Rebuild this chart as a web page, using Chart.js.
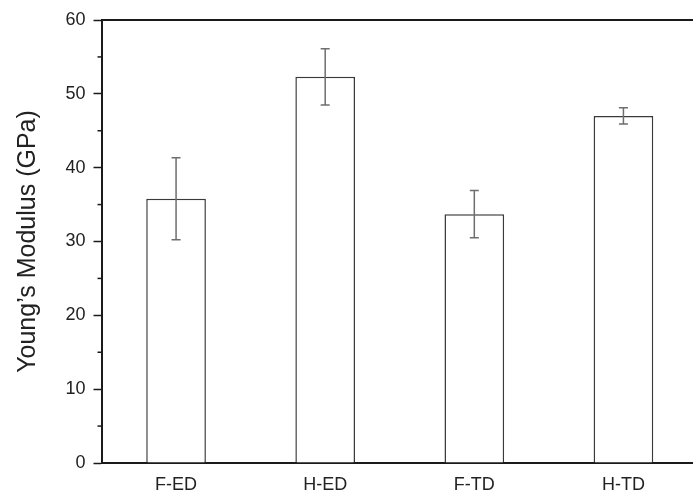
<!DOCTYPE html>
<html>
<head>
<meta charset="utf-8">
<script src="https://cdn.jsdelivr.net/npm/chart.js@4"></script>
<style>
    html, body { margin: 0; padding: 0; background: #fff; overflow: hidden; }
    #wrap { width: 700px; height: 493px; }
</style>
</head>
<body>
<div id="wrap"><canvas id="modulusChart"></canvas></div>
<script>
const categories = ["F-ED", "H-ED", "F-TD", "H-TD"];
const modulusMean = [35.8, 52.3, 33.7, 47.0];
const modulusErr = [5.55, 3.8, 3.2, 1.1];
const yTicks = [0, 10, 20, 30, 40, 50, 60];
const yMinorTicks = [5, 15, 25, 35, 45, 55];

const AXIS_COLOR = "#1a1a1a";
const FONT = "'Liberation Sans', Arial, sans-serif";

// Error bars, minor ticks and the top frame line
const extrasPlugin = {
    id: "extras",
    afterDatasetsDraw(chart){
        const ctx = chart.ctx;
        const x = chart.scales.x;
        const y = chart.scales.y;
        const area = chart.chartArea;

        ctx.save();
        ctx.strokeStyle = "#6e6e6e";
        ctx.lineWidth = 1.5;
        modulusMean.forEach((m, i) => {
            const cx = x.getPixelForValue(i);
            const top = y.getPixelForValue(m + modulusErr[i]);
            const bot = y.getPixelForValue(m - modulusErr[i]);
            ctx.beginPath();
            ctx.moveTo(cx, top);
            ctx.lineTo(cx, bot);
            ctx.moveTo(cx - 4.5, top);
            ctx.lineTo(cx + 4.5, top);
            ctx.moveTo(cx - 4.5, bot);
            ctx.lineTo(cx + 4.5, bot);
            ctx.stroke();
        });

        ctx.strokeStyle = AXIS_COLOR;
        ctx.lineWidth = 1.5;
        yMinorTicks.forEach(v => {
            const py = y.getPixelForValue(v);
            ctx.beginPath();
            ctx.moveTo(area.left - 4, py);
            ctx.lineTo(area.left, py);
            ctx.stroke();
        });

        ctx.lineWidth = 2;
        ctx.beginPath();
        ctx.moveTo(area.left, area.top);
        ctx.lineTo(area.right, area.top);
        ctx.stroke();
        ctx.restore();
    }
};

new Chart(document.getElementById("modulusChart"), {
    type: "bar",
    data: {
        labels: categories,
        datasets: [{
            data: modulusMean,
            backgroundColor: "#ffffff",
            borderColor: "#3a3a3a",
            borderWidth: 1.5,
            barPercentage: 0.4,
            categoryPercentage: 1.0
        }]
    },
    options: {
        responsive: true,
        maintainAspectRatio: false,
        animation: false,
        layout: { padding: { top: 20, right: 2, left: 0, bottom: 0 } },
        plugins: {
            legend: { display: false },
            tooltip: { enabled: false }
        },
        scales: {
            x: {
                grid: { display: false, drawTicks: false },
                border: { color: AXIS_COLOR, width: 2 },
                ticks: {
                    color: "#222",
                    font: { family: FONT, size: 18 },
                    padding: 11
                },
                afterFit(scale){ scale.height = 30; }
            },
            y: {
                min: 0,
                max: 60,
                afterBuildTicks(scale){
                    scale.ticks = yTicks.map(v => ({ value: v }));
                },
                grid: {
                    drawOnChartArea: false,
                    tickLength: 8,
                    tickWidth: 1.5,
                    tickColor: AXIS_COLOR
                },
                border: { color: AXIS_COLOR, width: 2 },
                ticks: {
                    color: "#222",
                    font: { family: FONT, size: 18 },
                    padding: 8
                },
                title: {
                    display: true,
                    text: "Young’s Modulus (GPa)",
                    color: "#222",
                    font: { family: FONT, size: 25 },
                    padding: { top: 13, bottom: 0 }
                },
                afterFit(scale){ scale.width = 101.5; }
            }
        }
    },
    plugins: [extrasPlugin]
});
</script>
</body>
</html>
